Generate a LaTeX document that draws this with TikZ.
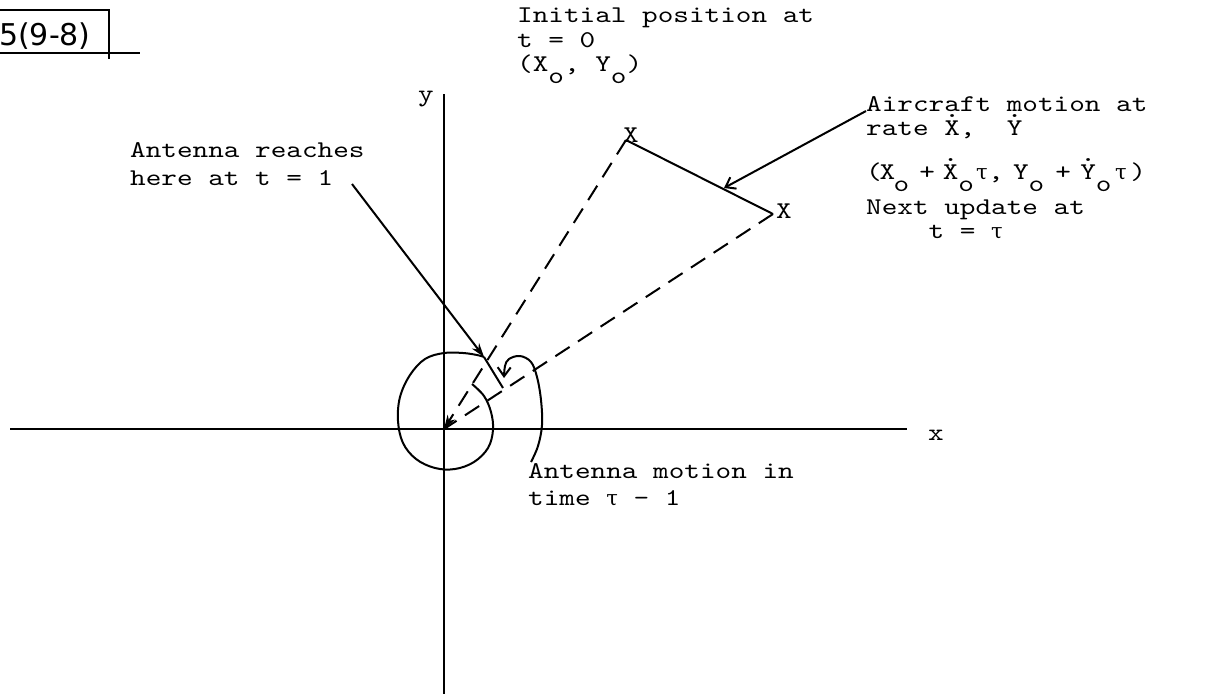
\documentclass[tikz,border=0pt]{standalone}
\usepackage{fontspec}
\usetikzlibrary{arrows.meta}
\newfontfamily\tw{lmmono10-regular.otf}[FakeStretch=1.24]
\newfontfamily\dvs{DejaVu Sans}
\newfontfamily\gk{DejaVu Serif}
\newcommand\twsize{\fontsize{24}{26}\selectfont}
\newlength\chw
\newcommand\subo{\smash{\raisebox{-12pt}{o}}}
\newcommand\dotc[1]{\setbox0\hbox{#1}\rlap{#1}\hbox to\wd0{\hss\raisebox{0.74em}{.}\hss}}
\newcommand\tauc{{\gk\fontsize{21}{23}\selectfont τ}}
\newcommand\putat[2]{\rlap{\hspace*{#1\chw}\makebox[\chw]{#2}}}
\begin{document}
\settowidth\chw{\tw\twsize x}
\begin{tikzpicture}[x=1pt,y=-1pt,
  txt/.style={font=\tw\twsize, inner sep=0pt, anchor=base west},
  ln/.style={line width=2pt},
  axis/.style={line width=2.4pt},
  dsh/.style={line width=2pt, dash pattern=on 17pt off 10pt},
  filltip/.style={-{Stealth[length=14pt,width=9pt]}},
  barbtip/.style={-{Straight Barb[length=9pt,width=13pt]}}
]
\useasboundingbox (0,0) rectangle (1212,694);

% figure number box
\node[font=\dvs\fontsize{30}{32}\selectfont, inner sep=0pt, anchor=base west] (fig) at (-1,45) {5(9-8)};
\draw[ln] (0,10) -- (109,10) -- (109,59);
\draw[ln] (0,53) -- (140,53);

% axes
\coordinate (O) at (444,429);
\coordinate (xl) at (10,429);
\coordinate (xr) at (907,429);
\coordinate (yt) at (444,94);
\coordinate (yb) at (444,694);
\draw[axis] (xl) -- (xr);
\draw[axis] (yt) -- (yb);
\node[txt] (xlab) at (928,440) {x};
\node[txt] (ylab) at (418,101) {y};

% aircraft positions
\coordinate (P1) at (626,140);
\coordinate (P2) at (773,214);
\node[txt] (X1) at (623,142) {X};
\node[txt] (X2) at (776,218) {X};
\draw[ln] (P1) -- (P2);
\draw[dsh,-{Stealth[length=14pt,width=9pt]}] (P1) -- (O);
\draw[dsh] (P2) -- (O);

% texts
\node[txt] (t1a) at (517,22) {Initial position at};
\node[txt] (t1b) at (517,47) {t = 0};
\node[txt] (t1c) at (517,71) {(X\subo, Y\subo)};

\node[txt] (t2a) at (130,157) {Antenna reaches};
\node[txt] (t2b) at (130,185) {here at t = 1};

\node[txt] (t3a) at (866,111) {Aircraft motion at};
\node[txt] (t3b) at (866,135) {rate \dotc{X},\ \ \dotc{Y}};
\node[txt] (t3c) at (866,179) {\putat{0}{(}\putat{0.85}{X}\putat{1.75}{\subo}\putat{3.4}{+}\putat{4.9}{\dotc{X}}\putat{5.9}{\subo}\putat{6.9}{\tauc}\putat{7.8}{,}\putat{9.4}{Y}\putat{10.4}{\subo}\putat{12.1}{+}\putat{13.7}{\dotc{Y}}\putat{14.7}{\subo}\putat{15.8}{\tauc}\putat{16.9}{)}\hspace*{17.9\chw}};
\node[txt] (t3d) at (866,214) {Next update at};
\node[txt] (t3e) at (866,238) {\hspace*{4\chw}t = \tauc};

\node[txt] (t4a) at (528,478) {Antenna motion in};
\node[txt] (t4b) at (528,505) {time \tauc{} - 1};

% antenna path
\coordinate (T1) at (484,357);
\coordinate (T2) at (503,388);
\draw[ln] plot[smooth, tension=0.6] coordinates {(472,384) (484,396) (491,412) (493,430) (488,448) (474,462) (455,469) (435,468) (416,459) (403,443) (398,421) (400,397) (410,375) (425,359) (444,353) (463,353) (477,355) (484,357)};
\draw[ln] (T1) -- (T2);

% pointers
\coordinate (L1) at (352,184);
\draw[ln,filltip] (L1) -- (T1);
\coordinate (L2) at (866,111);
\coordinate (L2t) at (724,188);
\draw[ln,barbtip] (L2) -- (L2t);
\draw[ln,barbtip] plot[smooth, tension=0.6] coordinates {(531,462) (538,446) (542,425) (541,400) (537,377) (531,362) (520,356) (509,359) (505,366) (504,378)};
\end{tikzpicture}
\end{document}
